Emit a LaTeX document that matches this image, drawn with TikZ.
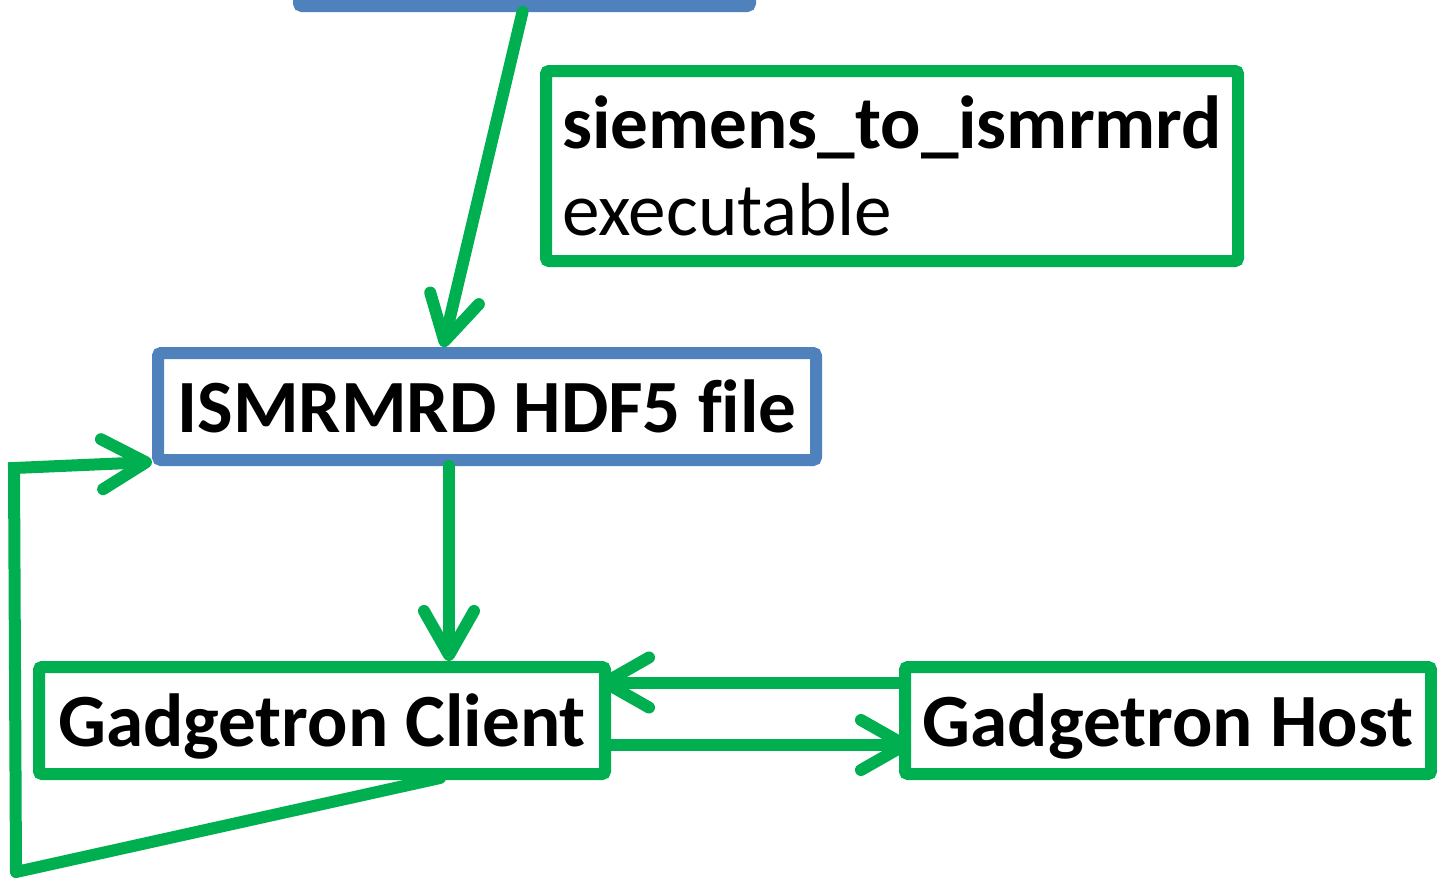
\documentclass[tikz,border=0pt]{standalone}
\usepackage{fontspec}
\setmainfont{Carlito}[Ligatures=NoCommon]
\usetikzlibrary{arrows.meta}
\definecolor{gr}{HTML}{00B050}
\definecolor{bl}{HTML}{4F81BD}
\tikzset{
  box/.style={draw, line width=6pt, rounded corners=1.5pt, fill=white, inner sep=0pt,
    font=\fontsize{37.6}{43.5}\selectfont\bfseries},
  gbox/.style={box, draw=gr},
  bbox/.style={box, draw=bl},
  oneline/.style={text depth=0pt},
  conn/.style={draw=gr, line width=6pt, line cap=round, line join=round,
    -{Straight Barb[length=22pt, width=25pt, line cap=round, line join=round]}},
  plain/.style={draw=gr, line width=6pt, line cap=round, line join=round},
}
\begin{document}
\begin{tikzpicture}[x=0.5pt, y=-0.5pt]
\useasboundingbox (0,0) rectangle (1437,880);
\clip (0,0) rectangle (1437,880);
\node[bbox, minimum width=225.5pt, minimum height=60pt] (top) at (524.5,-54) {};
\node[gbox, minimum width=346pt, minimum height=95pt, text width=330pt, align=left,
  font=\fontsize{37.6}{43.5}\selectfont] (siem) at (892,166)
  {\textbf{siemens\_to\_ismrmrd}\\executable};
\node[bbox, oneline, minimum width=329pt, minimum height=53.5pt] (hdf) at (487,406.5) {ISMRMRD HDF5 file};
\node[gbox, oneline, minimum width=283pt, minimum height=53.5pt] (client) at (322,720.5) {Gadgetron Client};
\node[gbox, oneline, minimum width=263pt, minimum height=53.5pt] (host) at (1168,720.5) {Gadgetron Host};
\coordinate (fb1) at (16,872);
\coordinate (fb2) at (14,468);
\draw[conn] ([xshift=-1pt]top.south) -- ([xshift=-22pt]hdf.north);
\draw[conn] ([xshift=-19pt]hdf.south) -- ([xshift=-19pt]hdf.south |- client.north);
\draw[conn] ([yshift=19pt]host.west) -- ([xshift=-6pt, yshift=19pt]client.east);
\draw[conn] ([yshift=-12.25pt]client.east) -- ([xshift=6pt, yshift=-12.25pt]host.west);
\draw[plain] ([xshift=59pt, yshift=1pt]client.south) -- (fb1);
\draw[conn, line cap=butt, line join=miter] (fb1) -- (fb2) -- ([yshift=2pt]hdf.south west);
\end{tikzpicture}
\end{document}
